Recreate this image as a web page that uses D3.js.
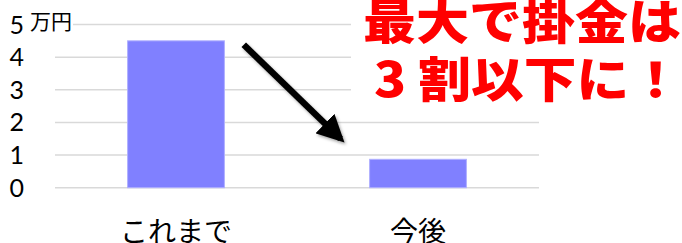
<!DOCTYPE html>
<html>
<head>
<meta charset="utf-8">
<script src="https://cdn.jsdelivr.net/npm/d3@7"></script>
<style>
  html, body { margin: 0; padding: 0; background: #fff; }
  svg { display: block; }
</style>
</head>
<body>
<svg id="chart"></svg>
<script>
// data
var categories = ["これまで", "今後"];
var values = [4.5, 0.87];
var yTicks = [0, 1, 2, 3, 4, 5];
var unitLabel = "万円";
var headline = ["最大で掛金は", "3 割以下に！"];

var svgWidth = 682, svgHeight = 243;
var margin = { top: 24.5, right: 143, bottom: 55.3, left: 55 };
var width = svgWidth - margin.left - margin.right;
var height = svgHeight - margin.top - margin.bottom;

var svg = d3.select("#chart").attr("width", svgWidth).attr("height", svgHeight);

var defs = svg.append("defs");
var shadow = defs.append("filter").attr("id", "shadow")
    .attr("x", "-20%").attr("y", "-20%").attr("width", "140%").attr("height", "140%");
shadow.append("feDropShadow")
    .attr("dx", 1.5).attr("dy", 2).attr("stdDeviation", 1.5)
    .attr("flood-color", "#000").attr("flood-opacity", 0.35);
defs.append("marker").attr("id", "head")
    .attr("viewBox", "0 0 10 10").attr("refX", 8).attr("refY", 5)
    .attr("markerWidth", 4.2).attr("markerHeight", 4.2)
    .attr("markerUnits", "strokeWidth")
    .attr("orient", "auto")
    .append("path").attr("d", "M0,0 L10,5 L0,10 Z").attr("fill", "#000");

var g = svg.append("g").attr("transform", "translate(" + margin.left + "," + margin.top + ")");

var x = d3.scaleBand().domain(categories).range([0, width]).paddingInner(0).paddingOuter(0);
var y = d3.scaleLinear().domain([0, 5]).range([height, 0]);

// gridlines
g.append("g").selectAll("line").data(yTicks).join("line")
    .attr("x1", 0).attr("x2", width)
    .attr("y1", function(d) { return y(d); })
    .attr("y2", function(d) { return y(d); })
    .attr("stroke", "#d9d9d9").attr("stroke-width", 1.5);

// y tick labels
g.append("g").selectAll("text").data(yTicks).join("text")
    .attr("x", -31).attr("y", function(d) { return y(d); })
    .attr("dy", "0.36em")
    .attr("text-anchor", "end")
    .attr("font-family", "Lato, 'Noto Sans', sans-serif")
    .attr("font-size", 25)
    .attr("fill", "#000")
    .text(function(d) { return d; });

// bars
var barW = x.bandwidth() * 0.4;
g.append("g").selectAll("rect").data(values).join("rect")
    .attr("x", function(d, i) { return x(categories[i]) + (x.bandwidth() - barW) / 2; })
    .attr("y", function(d) { return y(d); })
    .attr("width", barW)
    .attr("height", function(d) { return y(0) - y(d); })
    .attr("fill", "#8080ff")
    .attr("stroke", "#b0b0ff").attr("stroke-width", 1);

// x labels
g.append("g").selectAll("text").data(categories).join("text")
    .attr("x", function(d) { return x(d) + x.bandwidth() / 2; })
    .attr("y", height + 54)
    .attr("text-anchor", "middle")
    .attr("font-family", "'Noto Sans CJK JP', sans-serif")
    .attr("font-size", 28)
    .attr("fill", "#000")
    .text(function(d) { return d; });

// unit label
var unit = g.append("g");
var unitText = unit.append("text")
    .attr("x", -25).attr("y", y(5) + 4.5)
    .attr("font-family", "'Noto Sans CJK JP', sans-serif")
    .attr("font-size", 21)
    .attr("fill", "#000")
    .text(unitLabel);
var ub = unitText.node().getBBox();
unit.insert("rect", "text")
    .attr("x", ub.x).attr("y", ub.y + 3).attr("width", ub.width + 1).attr("height", ub.height - 5)
    .attr("fill", "#fff");

// arrow
g.append("line")
    .attr("x1", x(categories[0]) + x.bandwidth() * 0.78)
    .attr("y1", y(4.38))
    .attr("x2", x(categories[1]) + x.bandwidth() * 0.18)
    .attr("y2", y(1.5))
    .attr("stroke", "#000").attr("stroke-width", 6.5)
    .attr("marker-end", "url(#head)")
    .attr("filter", "url(#shadow)");

// headline box
var box = svg.append("g");
box.append("rect")
    .attr("x", 351).attr("y", 0).attr("width", svgWidth - 351).attr("height", 112)
    .attr("fill", "#fff");
box.selectAll("text").data(headline).join("text")
    .attr("x", function(d, i) { return i === 0 ? 363 : 374; })
    .attr("y", function(d, i) { return i === 0 ? 38.5 : 97; })
    .attr("textLength", function(d, i) { return i === 0 ? 318 : 308; })
    .attr("lengthAdjust", "spacingAndGlyphs")
    .attr("font-family", "'Noto Sans CJK JP', sans-serif")
    .attr("font-weight", 900)
    .attr("font-size", 48)
    .attr("fill", "#ff0000")
    .text(function(d) { return d; });
</script>
</body>
</html>
